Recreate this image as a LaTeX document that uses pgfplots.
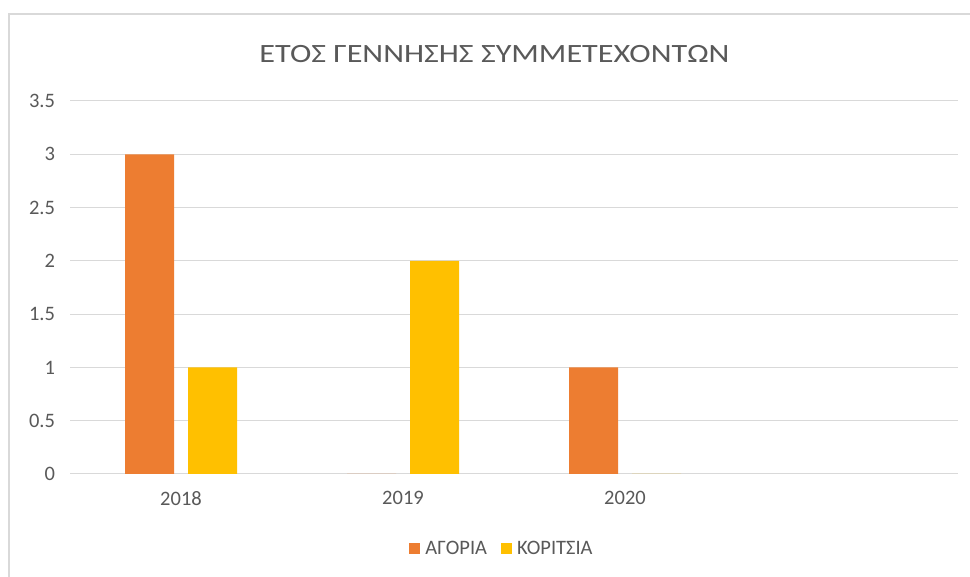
\documentclass[border=0pt]{standalone}
\usepackage{fontspec}
\setmainfont{Carlito}
\usepackage{pgfplots}
\pgfplotsset{compat=1.18}
\definecolor{txt}{HTML}{595959}
\definecolor{grd}{HTML}{D9D9D9}
\definecolor{boys}{HTML}{ED7D31}
\definecolor{girls}{HTML}{FFC000}
\begin{document}
\begin{tikzpicture}
\useasboundingbox (0,0) rectangle (970pt,577pt);
\fill[white] (0,0) rectangle (970pt,577pt);
\draw[grd, line width=1.5pt] (9pt,0) -- (9pt,563pt) -- (970pt,563pt);
\begin{axis}[
  at={(70pt,103pt)}, anchor=south west,
  scale only axis, width=888pt, height=373pt,
  xmin=-0.5, xmax=3.5, ymin=0, ymax=3.5,
  xtick={0,1,2}, xticklabels={2018,2019,2020},
  ytick={0,0.5,...,3.5},
  ymajorgrids, grid style={grd, line width=1pt},
  axis line style={draw=none},
  major tick length=0pt,
  tick label style={font=\fontsize{20.5}{24}\selectfont, text=txt},
  /pgf/number format/assume math mode=true,
  yticklabel style={xshift=-11.5pt},
  xticklabel style={yshift=-14pt},
  ybar, bar width=49pt,
  legend style={at={(0.4865,-0.201)}, anchor=center, draw=none, fill=none,
    legend columns=2, font=\fontsize{20.5}{24}\selectfont, text=txt,
    /tikz/every even column/.append style={column sep=12pt}},
  legend image code/.code={\fill[#1] (0pt,-5.5pt) rectangle (10.5pt,5.5pt); \path (14pt,0pt);},
]
\addplot[fill=boys, draw=none, bar shift=-31.5pt] coordinates {(0,3) (1,0) (2,1)};
\addplot[fill=girls, draw=none, bar shift=31.5pt] coordinates {(0,1) (1,2) (2,0)};
\legend{ΑΓΟΡΙΑ, ΚΟΡΙΤΣΙΑ}
\end{axis}
\node[anchor=base, text=txt, font=\fontsize{26.4}{30}\selectfont, xscale=1.22, transform shape] at (494.5pt,514.7pt) {ΕΤΟΣ ΓΕΝΝΗΣΗΣ ΣΥΜΜΕΤΕΧΟΝΤΩΝ};
\end{tikzpicture}
\end{document}
